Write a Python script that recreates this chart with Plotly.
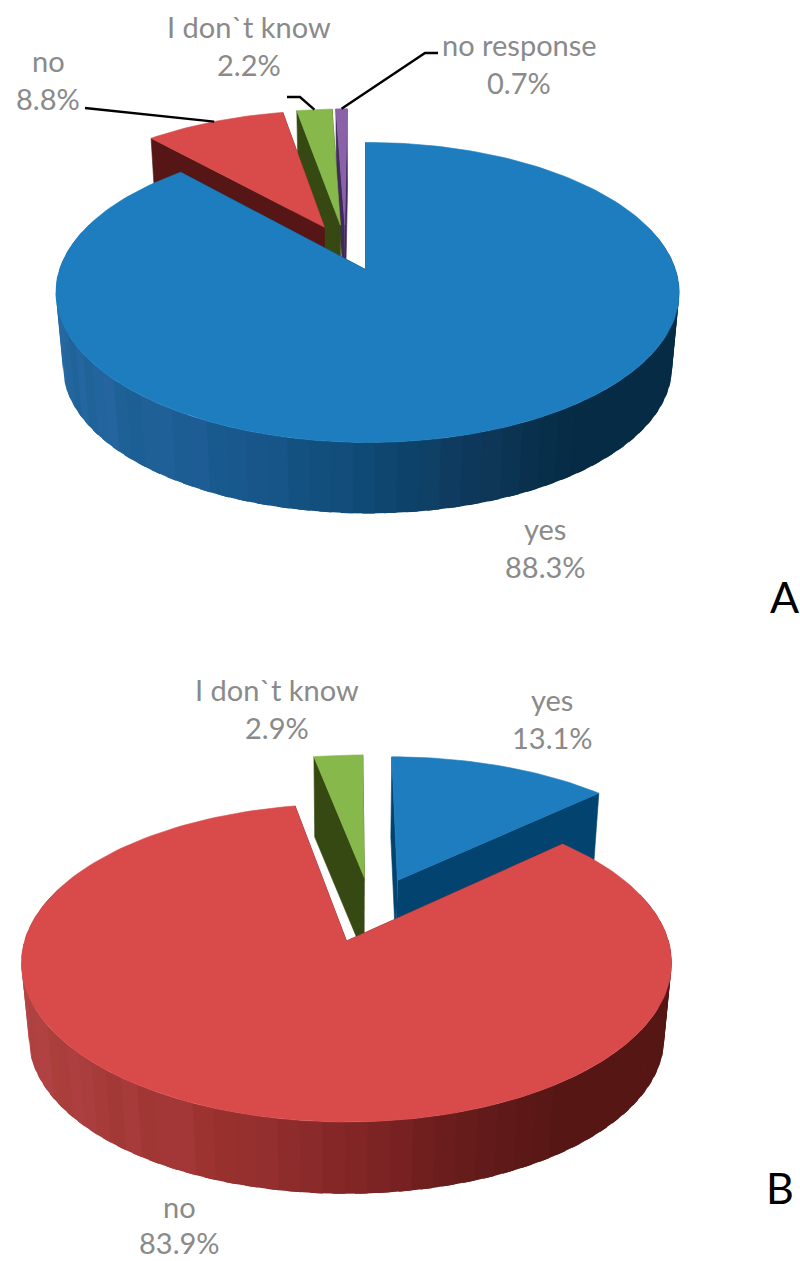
import math
import plotly.graph_objects as go

# Survey answers for the two questions
labels_a = ["yes", "no", "I don`t know", "no response"]
values_a = [88.3, 8.8, 2.2, 0.7]
labels_b = ["yes", "no", "I don`t know"]
values_b = [13.1, 83.9, 2.9]

TOP = {"yes": "#1d7dbf", "no": "#d94b4b", "I don`t know": "#87b84b", "no response": "#8a62aa"}
WALL = {"yes": "#03436f", "no": "#551615", "I don`t know": "#364913", "no response": "#40295c"}

# Rim shading from the left edge of the pie to its right edge
RIM_STOPS = {
    "yes": [(0.0, (36, 104, 160)), (0.3, (26, 90, 144)), (0.5, (15, 74, 118)),
            (0.65, (14, 56, 90)), (0.8, (6, 43, 68)), (1.0, (6, 43, 68))],
    "no": [(0.0, (178, 68, 68)), (0.3, (158, 52, 50)), (0.5, (132, 38, 38)),
           (0.65, (104, 28, 28)), (0.8, (85, 22, 20)), (1.0, (85, 22, 20))],
}
RIM_TINT = [0, 4, 1, -3, -1, 5, 2, -3, 3, -4, -1, 1, 3, -2, -3, 3, 1, -1, -3, 2]

# Camera and placement of each pie on the page
PIE_A = dict(xa=365.5, ya=269.5, rx=308, ry=146.5, k=0.153, tilt=-0.0065, drop=75, base=0.977,
             explode=0.165, nudge=-7, anchor="yes", order=["no response", "I don`t know", "no", "yes"])
PIE_B = dict(xa=346.5, ya=941, rx=322, ry=156, k=0.138, tilt=0.0, drop=76, base=0.977,
             explode=0.22, nudge=7, anchor="no", order=["I don`t know", "yes", "no"])

fig = go.Figure()


def project(pie, u, v, level=0.0, off_v=0.0):
    w = 1 + pie["k"] * v + pie["tilt"] * u
    s = 1 - (1 - pie["base"]) * level
    x = pie["xa"] + s * pie["rx"] * u / w + pie["nudge"] * off_v
    return x, pie["ya"] + pie["drop"] * level - s * pie["ry"] * v / w


def polygon(xs, ys, color, edge=0.6):
    fig.add_trace(go.Scatter(x=xs, y=ys, mode="lines", fill="toself", fillcolor=color,
                             line=dict(color=color, width=edge), hoverinfo="skip", showlegend=False))


def shade(name, t, band):
    stops = RIM_STOPS[name]
    for (t0, c0), (t1, c1) in zip(stops, stops[1:]):
        if t <= t1:
            f = (t - t0) / (t1 - t0)
            rgb = [c0[i] + f * (c1[i] - c0[i]) for i in range(3)]
            break
    tint = RIM_TINT[band % len(RIM_TINT)] * max(0.0, 1 - t / 0.8)
    rgb = [rgb[0] + tint, rgb[1] + tint * 0.5, rgb[2] + tint * 1.2]
    return "rgb(%d,%d,%d)" % tuple(max(0, min(255, round(c))) for c in rgb)


def slice_geometry(labels, values):
    total = sum(values)
    start = 0.0
    out = {}
    for name, value in zip(labels, values):
        sweep = 360 * value / total
        out[name] = (start, start + sweep)
        start += sweep
    return out


def rim_point(pie, offset, angle, level=0.0):
    a = math.radians(angle)
    return project(pie, offset[0] + math.sin(a), offset[1] + math.cos(a), level, offset[1])


def draw_pie(pie, labels, values):
    spans = slice_geometry(labels, values)
    mid = lambda n: math.radians(sum(spans[n]) / 2)
    ref = mid(pie["anchor"])
    offsets = {n: (pie["explode"] * (math.sin(mid(n)) - math.sin(ref)),
                   pie["explode"] * (math.cos(mid(n)) - math.cos(ref))) for n in labels}
    for name in pie["order"]:
        a0, a1 = spans[name]
        off = offsets[name]
        apex = project(pie, off[0], off[1], 0.0, off[1])
        apex_low = project(pie, off[0], off[1], 1.0, off[1])
        # cut faces
        for edge in (a0, a1):
            pts = [apex, rim_point(pie, off, edge), rim_point(pie, off, edge, 1), apex_low]
            polygon([p[0] for p in pts], [p[1] for p in pts], WALL[name])
        # outer wall: each band runs on under the next one so no seams show
        if name in RIM_STOPS:
            step = 3.5
            band = 0
            t = a0
            while t < a1:
                t2 = min(t + step, a1)
                t3 = min(t2 + 2.0, a1)
                if math.cos(math.radians((t + t2) / 2)) < 0.3:
                    sweep = [t + (t3 - t) * i / 5 for i in range(6)]
                    top = [rim_point(pie, off, s) for s in sweep]
                    low = [rim_point(pie, off, s, 1) for s in reversed(sweep)]
                    outline = top + low
                    color = shade(name, (math.sin(math.radians((t + t2) / 2)) + 1) / 2, band)
                    polygon([q[0] for q in outline], [q[1] for q in outline], color, edge=0)
                t = t2
                band += 1
        # top face
        steps = max(2, int((a1 - a0) / 1.5))
        rim = [rim_point(pie, off, a0 + (a1 - a0) * i / steps) for i in range(steps + 1)]
        pts = [apex] + rim + [apex]
        polygon([p[0] for p in pts], [p[1] for p in pts], TOP[name])
    return spans, offsets


spans_a, offsets_a = draw_pie(PIE_A, labels_a, values_a)
spans_b, offsets_b = draw_pie(PIE_B, labels_b, values_b)

# Leader lines running from the labels to the small slices of the first pie
leaders = [("no", [(85, 108)]), ("I don`t know", [(287, 97), (300, 97)]), ("no response", [(438, 53), (425, 53)])]
for name, start in leaders:
    end = rim_point(PIE_A, offsets_a[name], sum(spans_a[name]) / 2)
    pts = start + [end]
    fig.add_trace(go.Scatter(x=[p[0] for p in pts], y=[p[1] for p in pts], mode="lines",
                             line=dict(color="#000000", width=2.4), hoverinfo="skip", showlegend=False))


def caption(name, value, x, y, gap=38.5):
    for text, yy in ((name, y), (f"{value:.1f}%", y + gap)):
        fig.add_annotation(x=x, y=yy, text=text, showarrow=False, xanchor="center", yanchor="middle",
                           font=dict(family="Lato", size=29, color="#8a8a8a"))


caption(labels_a[1], values_a[1], 48, 60)
caption(labels_a[2], values_a[2], 249, 26)
caption(labels_a[3], values_a[3], 519, 44)
caption(labels_a[0], values_a[0], 545, 528)
caption(labels_b[2], values_b[2], 277, 689)
caption(labels_b[0], values_b[0], 552, 699)
caption(labels_b[1], values_b[1], 179, 1206, gap=36)

for text, x, y in (("A", 784, 596), ("B", 780, 1187.5)):
    fig.add_annotation(x=x, y=y, text=text, showarrow=False, xanchor="center", yanchor="middle",
                       font=dict(family="Lato", size=43, color="#000000"))

fig.update_layout(width=800, height=1261, margin=dict(l=0, r=0, t=0, b=0),
                  paper_bgcolor="white", plot_bgcolor="white", showlegend=False,
                  xaxis=dict(range=[0, 800], visible=False, fixedrange=True),
                  yaxis=dict(range=[1261, 0], visible=False, fixedrange=True))
fig.write_html("out.html", config=dict(displayModeBar=False))
